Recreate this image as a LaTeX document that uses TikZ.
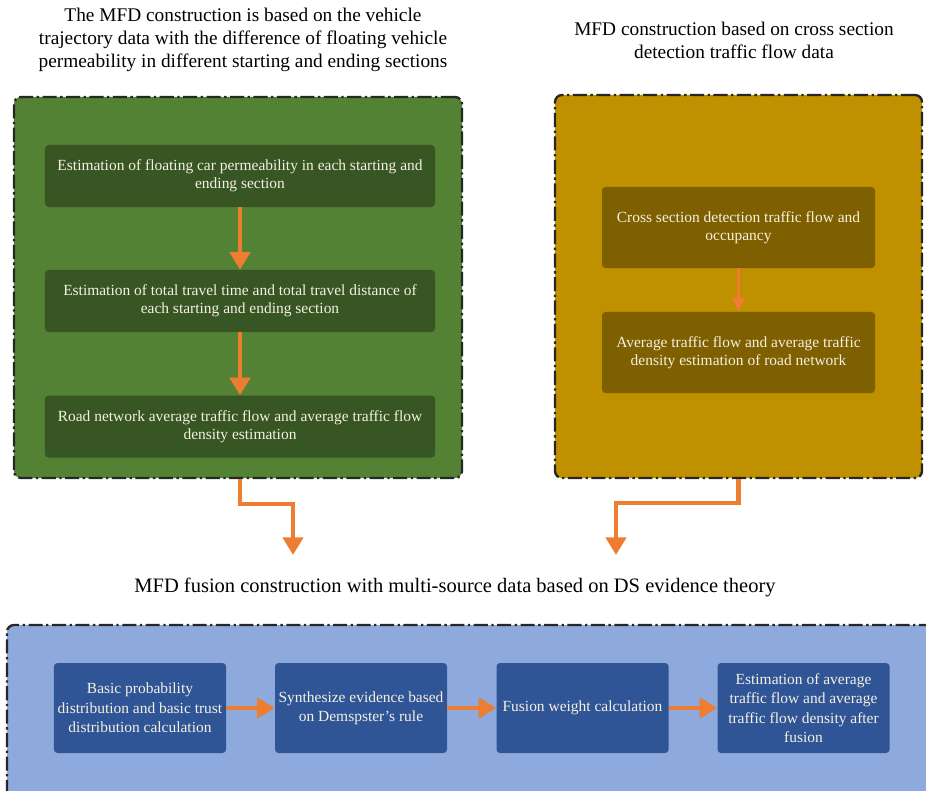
\documentclass[tikz,border=0pt]{standalone}
\usepackage{fontspec}
\setmainfont{Liberation Serif}
\usepackage{tikz}
\usetikzlibrary{positioning,arrows.meta,calc}

\definecolor{grnouter}{RGB}{84,130,53}
\definecolor{grninner}{RGB}{55,86,35}
\definecolor{ylwouter}{RGB}{191,144,0}
\definecolor{ylwinner}{RGB}{127,96,0}
\definecolor{bluouter}{RGB}{142,169,219}
\definecolor{bluinner}{RGB}{47,85,151}
\definecolor{arrorange}{RGB}{237,125,49}
\definecolor{boxtext}{RGB}{245,240,225}

\begin{document}
\begin{tikzpicture}[
  x=0.03cm, y=-0.03cm,
  font=\fontsize{13.2}{15}\selectfont,
  frame/.style={draw=black!85, line width=2pt, rounded corners=6pt,
                dash pattern=on 12pt off 3pt on 2pt off 3pt, inner sep=0pt},
  stage/.style={rounded corners=3pt, align=center, text=boxtext, inner sep=2pt},
  heading/.style={align=center, font=\fontsize{16.5}{19.5}\selectfont},
  arr/.style={-{Triangle[width=17pt,length=15pt]}, line width=3.8pt, draw=arrorange},
  thinarr/.style={-{Triangle[width=11pt,length=12pt]}, line width=3pt, draw=arrorange}
]
\useasboundingbox (0,0) rectangle (926,791);

% containers
\node[frame, fill=grnouter, minimum width=13.44cm, minimum height=11.43cm] (green) at (238,287.5) {};
\node[frame, fill=ylwouter, minimum width=11.01cm, minimum height=11.49cm] (yellow) at (738.5,286.5) {};
\node[frame, fill=bluouter, minimum width=27.99cm, minimum height=5.4cm] (blue) at (473.5,715) {};

% headings
\node[heading] (lefttitle) at (243,40) {The MFD construction is based on the vehicle\\trajectory data with the difference of floating vehicle\\permeability in different starting and ending sections};
\node[heading] (righttitle) at (734,40) {MFD construction based on cross section\\detection traffic flow data};
\node[heading, font=\fontsize{17.5}{20}\selectfont] (fusiontitle) at (455,587) {MFD fusion construction with multi-source data based on DS evidence theory};

% trajectory branch
\node[stage, fill=grninner, minimum width=11.7cm, minimum height=1.86cm] (g1) at (240,176)
  {Estimation of floating car permeability in each starting and\\ending section};
\node[stage, fill=grninner, minimum width=11.7cm, minimum height=1.86cm] (g2) at (240,301)
  {Estimation of total travel time and total travel distance of\\each starting and ending section};
\node[stage, fill=grninner, minimum width=11.7cm, minimum height=1.86cm] (g3) at (240,426.5)
  {Road network average traffic flow and average traffic flow\\density estimation};

% cross section branch
\node[stage, fill=ylwinner, minimum width=8.19cm, minimum height=2.43cm] (y1) at (738.5,227.5)
  {Cross section detection traffic flow and\\occupancy};
\node[stage, fill=ylwinner, minimum width=8.19cm, minimum height=2.43cm] (y2) at (738.5,352.5)
  {Average traffic flow and average traffic\\density estimation of road network};

% fusion steps
\tikzset{fusestep/.style={stage, fill=bluinner, minimum width=5.16cm, minimum height=2.7cm,
  font=\fontsize{13.2}{16.5}\selectfont}}
\node[fusestep] (b1) at (140,708)
  {Basic probability\\distribution and basic trust\\distribution calculation};
\node[fusestep] (b2) at (361,708)
  {Synthesize evidence based\\on Demspster's rule};
\node[fusestep] (b3) at (582.5,708)
  {Fusion weight calculation};
\node[fusestep] (b4) at (803.5,708)
  {Estimation of average\\traffic flow and average\\traffic flow density after\\fusion};

\coordinate (tipL) at (293,555);
\coordinate (tipR) at (616,555);

\draw[arr] (g1) -- (g2);
\draw[arr] (g2) -- (g3);
\draw[thinarr] (y1) -- (y2);

\draw[arr] (g3 |- green.south) -- ++(0,25) -| (tipL);
\draw[arr] (y2 |- yellow.south) -- ++(0,24) -| (tipR);

\draw[arr] (b1) -- (b2);
\draw[arr] (b2) -- (b3);
\draw[arr] (b3) -- (b4);
\end{tikzpicture}
\end{document}
